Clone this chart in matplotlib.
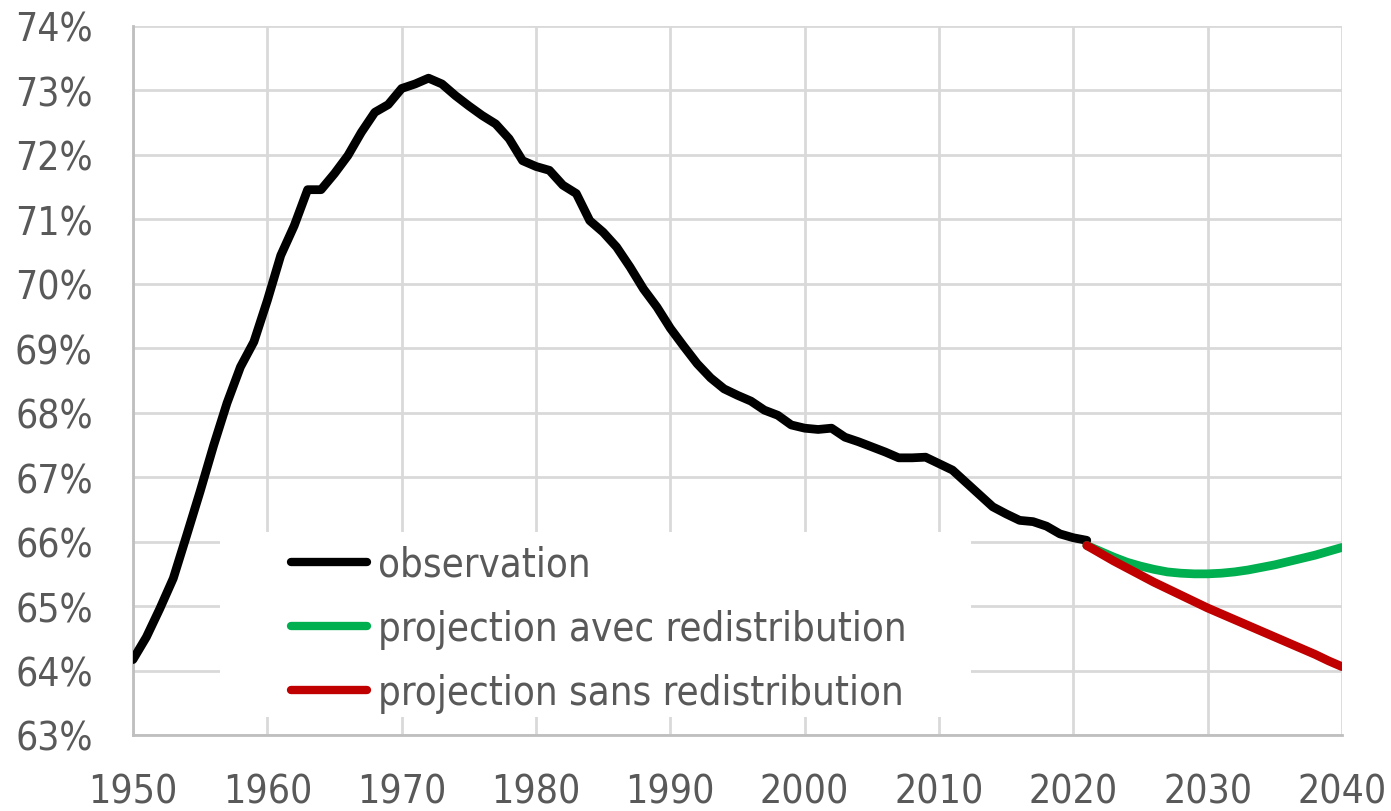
import numpy as np
import matplotlib
matplotlib.use('Agg')
import matplotlib.pyplot as plt
from matplotlib import font_manager as fm
from matplotlib.patches import Rectangle
from matplotlib.ticker import FuncFormatter

# pick a narrow font if one is installed, else Liberation Sans
narrow = [f.name for f in fm.fontManager.ttflist
          if f.stretch not in ('normal', 500) and f.style == 'normal']
if narrow:
    plt.rcParams['font.family'] = [narrow[0], 'DejaVu Sans']
    plt.rcParams['font.stretch'] = 'condensed'
else:
    plt.rcParams['font.family'] = ['Liberation Sans', 'DejaVu Sans']

# observed share (%), 1950-2021
obs_years = np.arange(1950, 2022)
obs_values = [64.17, 64.52, 64.96, 65.43, 66.10, 66.78, 67.49, 68.15, 68.71, 69.10,
              69.74, 70.44, 70.90, 71.46, 71.46, 71.71, 71.99, 72.35, 72.66, 72.78,
              73.03, 73.10, 73.19, 73.10, 72.92, 72.76, 72.61, 72.48, 72.25, 71.91,
              71.82, 71.76, 71.53, 71.40, 70.98, 70.80, 70.57, 70.26, 69.92, 69.64,
              69.31, 69.03, 68.76, 68.54, 68.37, 68.27, 68.18, 68.04, 67.96, 67.81,
              67.76, 67.74, 67.76, 67.62, 67.55, 67.47, 67.39, 67.30, 67.30, 67.31,
              67.21, 67.11, 66.92, 66.73, 66.54, 66.43, 66.33, 66.31, 66.24, 66.12,
              66.06, 66.02]

# projections 2021-2040
proj_years = np.arange(2021, 2041)
proj_avec = [65.94, 65.85, 65.76, 65.68, 65.62, 65.57, 65.53, 65.51, 65.50, 65.50,
             65.51, 65.53, 65.56, 65.60, 65.64, 65.69, 65.74, 65.79, 65.85, 65.91]
proj_sans = [65.94, 65.82, 65.70, 65.59, 65.48, 65.37, 65.27, 65.17, 65.07, 64.97,
             64.88, 64.79, 64.70, 64.61, 64.52, 64.43, 64.34, 64.25, 64.15, 64.06]

labels = ['observation', 'projection avec redistribution', 'projection sans redistribution']
colors = ['#000000', '#00b050', '#c00000']

fig = plt.figure(figsize=(13.91, 8.12), dpi=100)
ax = fig.add_axes([0.0956, 0.0936, 0.8692, 0.8732])

kw = dict(lw=6.3, solid_joinstyle='round', solid_capstyle='round', zorder=3)
ax.plot(obs_years, obs_values, color=colors[0], label=labels[0], **kw)
ax.plot(proj_years, proj_avec, color=colors[1], label=labels[1], **kw)
ax.plot(proj_years, proj_sans, color=colors[2], label=labels[2], **kw)

ax.set_xlim(1950, 2040)
ax.set_ylim(63, 74)
ax.set_xticks(np.arange(1950, 2041, 10))
ax.set_yticks(np.arange(63, 75, 1))
ax.yaxis.set_major_formatter(FuncFormatter(lambda v, p: '%d%%' % v))
ax.grid(True, color='#d9d9d9', lw=2, zorder=0)
ax.set_axisbelow(True)
for s in ['top', 'right']:
    ax.spines[s].set_visible(False)
for s in ['left', 'bottom']:
    ax.spines[s].set_color('#bfbfbf')
    ax.spines[s].set_linewidth(2)
ax.tick_params(length=0, labelsize=28, colors='#595959')
ax.tick_params(axis='y', pad=29)
ax.tick_params(axis='x', pad=27)

# white legend box
ax.add_patch(Rectangle((0.072, 0.025), 0.621, 0.261, transform=ax.transAxes,
                       facecolor='white', edgecolor='none', zorder=2))
leg = ax.legend(loc='upper left', bbox_to_anchor=(0.1307, 0.268),
                frameon=False, fontsize=28.8, handlelength=1.9,
                handletextpad=0.28, labelspacing=0.6, borderpad=0,
                borderaxespad=0)
for t in leg.get_texts():
    t.set_color('#595959')
for h in leg.get_lines():
    h.set_linewidth(6)
    h.set_solid_capstyle('round')

fig.savefig('out.png', dpi=100)
